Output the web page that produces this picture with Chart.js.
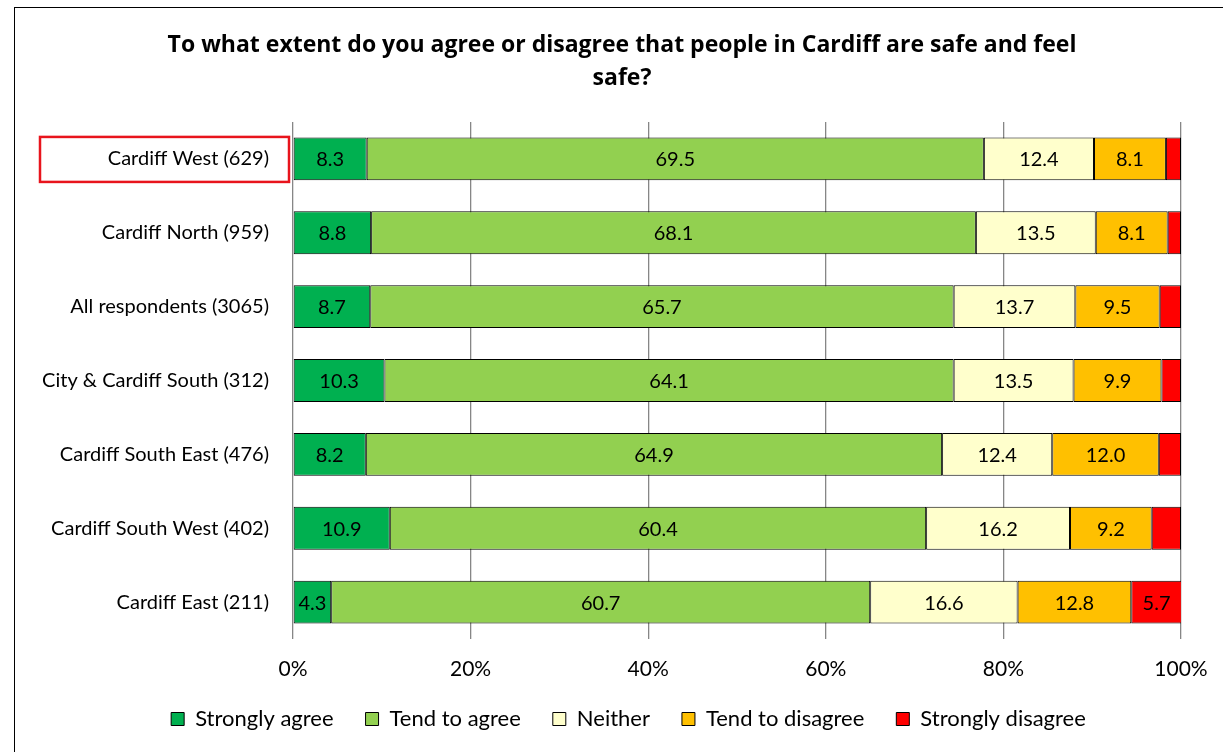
<!DOCTYPE html>
<html>
<head>
<meta charset="utf-8">
<script src="https://cdn.jsdelivr.net/npm/chart.js@4/dist/chart.umd.min.js"></script>
<style>
html, body { margin: 0; padding: 0; overflow: hidden; background: #fff; }
#frame { position: absolute; left: 14px; top: 7px; width: 1300px; height: 800px; border: 1.5px solid #000; }
#wrap { position: absolute; left: 0; top: 0; width: 1223px; height: 752px; }
</style>
</head>
<body>
<div id="frame"></div>
<div id="wrap"><canvas id="chart" width="1223" height="752"></canvas></div>
<script>
'use strict';

const titleLines = [
    'To what extent do you agree or disagree that people in Cardiff are safe and feel',
    'safe?',
];
const areas = [
    'Cardiff West (629)',
    'Cardiff North (959)',
    'All respondents (3065)',
    'City & Cardiff South (312)',
    'Cardiff South East (476)',
    'Cardiff South West (402)',
    'Cardiff East (211)',
];
const stronglyAgree    = [8.3, 8.8, 8.7, 10.3, 8.2, 10.9, 4.3];
const tendToAgree      = [69.5, 68.1, 65.7, 64.1, 64.9, 60.4, 60.7];
const neither          = [12.4, 13.5, 13.7, 13.5, 12.4, 16.2, 16.6];
const tendToDisagree   = [8.1, 8.1, 9.5, 9.9, 12.0, 9.2, 12.8];
const stronglyDisagree = [1.7, 1.5, 2.4, 2.2, 2.5, 3.3, 5.7];
const xTicks = [0, 20, 40, 60, 80, 100];

const FONT = 'Lato, "Open Sans", sans-serif';

function
series(label, data, color)
{
    return {
        label,
        data,
        backgroundColor: color,
        borderColor: '#000',
        borderWidth: 1,
        borderSkipped: false,
        barPercentage: 0.58,
        categoryPercentage: 1,
    };
}

// draws the title, the value labels and the red box round the first category
const extras = {
    id: 'extras',
    afterLayout(chart) {
        // centre the legend under the whole figure, not the left part
        chart.legend.left += 38;
        chart.legend.right += 38;
    },
    afterDatasetsDraw(chart) {
        const ctx = chart.ctx;
        ctx.save();
        ctx.fillStyle = '#000';
        ctx.textAlign = 'center';
        ctx.textBaseline = 'middle';
        ctx.font = '20px ' + FONT;
        chart.data.datasets.forEach((ds, i) => {
            chart.getDatasetMeta(i).data.forEach((bar, j) => {
                const v = ds.data[j];
                if (v < 4)
                    return;
                ctx.fillText(v.toFixed(1), (bar.x + bar.base) / 2, bar.y + 1);
            });
        });

        ctx.font = 'bold 23px "Open Sans", sans-serif';
        titleLines.forEach((line, k) => ctx.fillText(line, 622, 45 + k * 33));

        const y = chart.scales.y.getPixelForValue(0);
        ctx.strokeStyle = '#e8141c';
        ctx.lineWidth = 2.5;
        ctx.strokeRect(40, y - 22, 249, 45);
        ctx.restore();
    },
};

new Chart(document.getElementById('chart'), {
    type: 'bar',
    data: {
        labels: areas,
        datasets: [
            series('Strongly agree', stronglyAgree, '#00B050'),
            series('Tend to agree', tendToAgree, '#92D050'),
            series('Neither', neither, '#FFFFCC'),
            series('Tend to disagree', tendToDisagree, '#FFC000'),
            series('Strongly disagree', stronglyDisagree, '#FF0000'),
        ],
    },
    options: {
        indexAxis: 'y',
        responsive: false,
        animation: false,
        layout: { padding: { top: 122, right: 42, left: 0, bottom: 12 } },
        scales: {
            x: {
                stacked: true,
                min: 0,
                max: 100,
                afterBuildTicks: scale => { scale.ticks = xTicks.map(value => ({ value })); },
                afterFit: scale => {
                    scale.height = 37;
                    scale.paddingLeft = 0;
                    scale.paddingRight = 0;
                },
                ticks: {
                    callback: v => v + '%',
                    color: '#000',
                    font: { family: FONT, size: 21 },
                    padding: 18,
                    maxRotation: 0,
                },
                grid: { color: '#868686', lineWidth: 1.3, drawTicks: false },
                border: { display: false },
            },
            y: {
                stacked: true,
                afterFit: scale => { scale.width = 293; },
                ticks: {
                    color: '#000',
                    font: { family: FONT, size: 20 },
                    padding: 16,
                },
                grid: { display: false },
                border: { display: false },
            },
        },
        plugins: {
            title: { display: false },
            tooltip: { enabled: false },
            legend: {
                position: 'bottom',
                labels: {
                    color: '#000',
                    font: { family: FONT, size: 22 },
                    boxWidth: 13,
                    boxHeight: 13,
                    padding: 32,
                },
            },
        },
    },
    plugins: [extras],
});
</script>
</body>
</html>
